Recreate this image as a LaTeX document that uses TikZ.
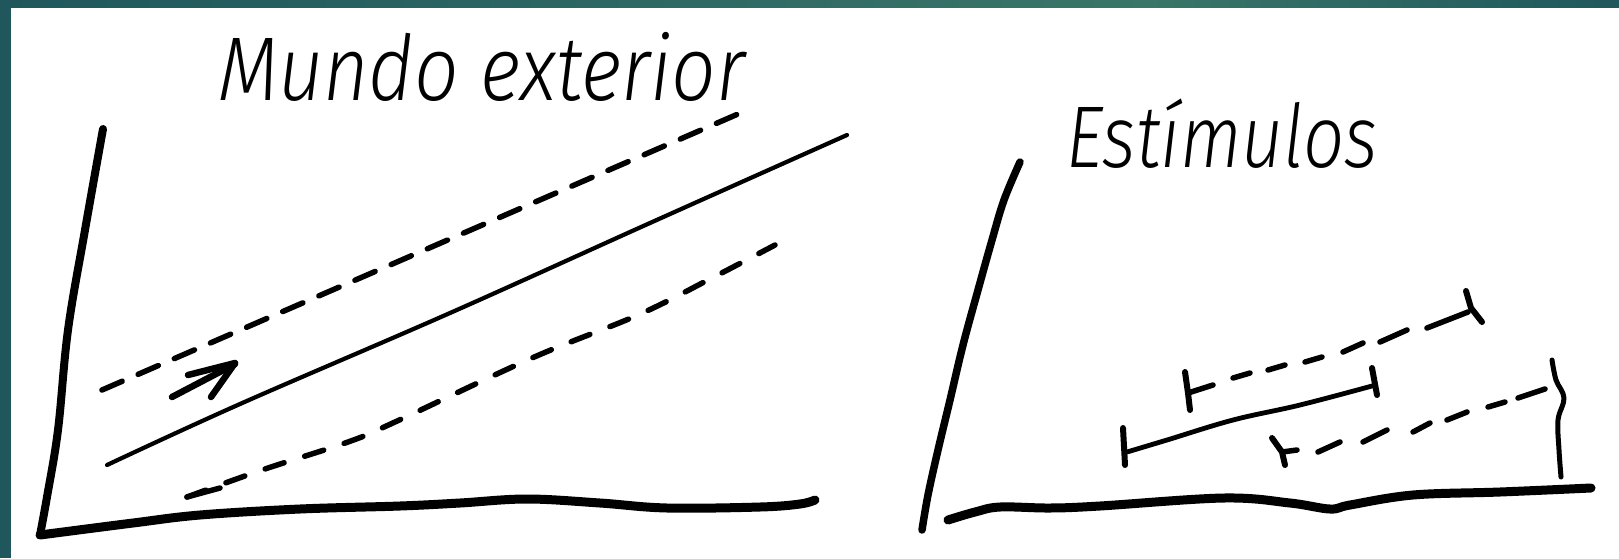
\documentclass[tikz,border=0pt]{standalone}
\usepackage{fontspec}
\usepackage{graphicx}
\newfontfamily\hand{Fira Sans Light Italic}
\definecolor{tealdark}{HTML}{1F575C}
\definecolor{teallight}{HTML}{3A7569}
\begin{document}
\begin{tikzpicture}[x=1pt,y=-1pt,
  ink/.style={line cap=round,line join=round,black},
  axisline/.style={ink,line width=8pt},
  thinline/.style={ink,line width=4.2pt},
  dashline/.style={ink,line width=5.5pt},
  tickline/.style={ink,line width=6pt},
  arrowline/.style={ink,line width=6.5pt},
  label/.style={inner sep=0pt,outer sep=0pt,anchor=base west}]
\useasboundingbox (0,0) rectangle (1619,558);
\fill[white] (0,0) rectangle (1619,558);
% frame bands
\shade[left color=tealdark,right color=teallight] (0,0) rectangle (1150,7);
\shade[left color=teallight,right color=tealdark] (1150,0) rectangle (1619,7);
\fill[tealdark] (0,0) rectangle (11,558);
% ---------- left plot ----------
\draw[axisline] plot[smooth,tension=0.6] coordinates {(103,129) (85,230) (68,330) (58,430) (47,497) (40,535)};
\draw[axisline,line width=9pt] plot[smooth,tension=0.6] coordinates {(40,535) (133,523) (200,515) (300,509) (400,506) (460,503) (527,499) (600,503) (667,508) (760,507) (800,504) (815,500)};
\draw[thinline] plot[smooth,tension=0.6] coordinates {(107,465) (240,404) (450,313) (650,223) (847,135)};
\draw[dashline,dash pattern=on 22pt off 17.4pt] (102,390) -- (738,114);
\draw[dashline,dash pattern=on 20pt off 21.5pt] plot[smooth,tension=0.6] coordinates {(187,497) (262,470) (348,442) (395,422) (532,358) (638,315) (710,279) (775,245)};
\draw[dashline] (187,497) -- (220,488);
\draw[arrowline] (172,397) -- (235,364);
\draw[arrowline] (188,375) -- (235,363) -- (211,397);
\node[label] (mundo) at (218,100) {\resizebox{527pt}{62pt}{\hand\smash{Mundo exterior}\vphantom{M}}};
% ---------- right plot ----------
\draw[axisline,line width=7.5pt] plot[smooth,tension=0.6] coordinates {(1020,162) (1004,200) (992,240) (978,290) (963,345) (950,400) (938,450) (928,495) (922,530)};
\draw[axisline,line width=9pt] plot[smooth,tension=0.6] coordinates {(948,520) (975,512) (1000,507) (1050,508) (1100,506) (1224,498) (1290,503) (1330,509) (1350,505) (1413,495) (1500,492) (1591,488)};
% solid segment
\draw[thinline,line width=4.8pt] plot[smooth,tension=0.6] coordinates {(1127,452) (1167,440) (1233,420) (1300,405) (1372,386)};
\draw[tickline] (1123,428) -- (1125,465);
\draw[tickline] (1372,368) -- (1377,395);
% upper dashed segment
\draw[tickline] (1185,372) -- (1188,393) -- (1190,410);
\foreach \a/\b/\c/\d in {1188/393/1213/385, 1233/378/1250/373, 1268/370/1285/365, 1305/362/1322/357, 1343/352/1363/343, 1380/342/1407/330, 1427/328/1468/312}
  \draw[dashline] (\a,\b) -- (\c,\d);
\draw[tickline] (1466,291) -- (1471,308) -- (1482,322);
% lower dashed segment
\draw[tickline] (1272,438) -- (1282,452) -- (1285,465);
\foreach \a/\b/\c/\d in {1282/452/1297/450, 1318/452/1340/442, 1363/442/1387/430, 1413/432/1430/423, 1447/420/1467/412, 1488/407/1505/402, 1518/398/1545/389}
  \draw[dashline] (\a,\b) -- (\c,\d);
\draw[tickline,line width=5pt] plot[smooth,tension=0.6] coordinates {(1552,360) (1556,380) (1564,398) (1558,420) (1559,450) (1561,477)};
\node[label] (estimulos) at (1066,167) {\resizebox{312pt}{60pt}{\hand\smash{Estímulos}\vphantom{E}}};
\end{tikzpicture}
\end{document}
